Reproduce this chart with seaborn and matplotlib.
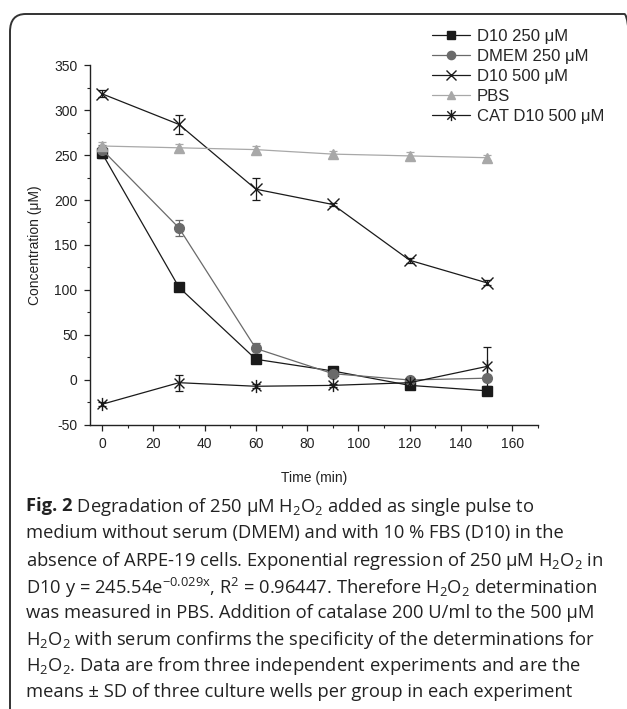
import matplotlib
matplotlib.use("Agg")
import matplotlib.pyplot as plt
import numpy as np
import pandas as pd
import seaborn as sns
from matplotlib.patches import FancyBboxPatch
from matplotlib.path import Path
from matplotlib.ticker import MultipleLocator

# ---- data ----
time = [0, 30, 60, 90, 120, 150]
d10_250 = [252, 103, 23, 10, -6, -12]
d10_250_sd = [5, 4, 3, 3, 2, 3]
dmem_250 = [256, 169, 35, 7, 0, 2]
dmem_250_sd = [5, 9, 6, 3, 2, 3]
d10_500 = [318, 284, 212, 195, 133, 108]
d10_500_sd = [4, 11, 12, 2, 3, 3]
pbs = [260, 258, 256, 251, 249, 247]
pbs_sd = [4, 4, 4, 4, 4, 3]
cat_d10_500 = [-27, -3, -7, -6, -3, 15]
cat_d10_500_sd = [2, 9, 2, 2, 2, 22]
series_names = ["D10 250 μM", "DMEM 250 μM", "D10 500 μM", "PBS", "CAT D10 500 μM"]
x_ticks = [0, 20, 40, 60, 80, 100, 120, 140, 160]
y_ticks = [-50, 0, 50, 100, 150, 200, 250, 300, 350]

sns.set_style("ticks")
plt.rcParams['font.family'] = ['Liberation Sans', 'DejaVu Sans']
plt.rcParams['axes.unicode_minus'] = False

fig = plt.figure(figsize=(6.27, 7.09), dpi=100)
ax = fig.add_axes([0.1435, 0.4006, 0.7145, 0.5077])

# asterisk marker: vertical bar plus an X
d = 0.75
asterisk = Path([(0, -1), (0, 1), (-d, -d), (d, d), (-d, d), (d, -d)],
                [Path.MOVETO, Path.LINETO, Path.MOVETO, Path.LINETO, Path.MOVETO, Path.LINETO])

values = [d10_250, dmem_250, d10_500, pbs, cat_d10_500]
sds = [d10_250_sd, dmem_250_sd, d10_500_sd, pbs_sd, cat_d10_500_sd]
styles = [
    dict(marker='s', color='#1a1a1a', mfc='#1a1a1a', ms=6.5, lc='#1a1a1a'),
    dict(marker='o', color='#6a6a6a', mfc='#6a6a6a', ms=7, lc='#6a6a6a'),
    dict(marker='x', color='#1a1a1a', mfc='none', ms=9, lc='#1a1a1a'),
    dict(marker='^', color='#a8a8a8', mfc='#a8a8a8', ms=7.5, lc='#a8a8a8'),
    dict(marker=asterisk, color='#1a1a1a', mfc='none', ms=9.5, lc='#1a1a1a'),
]

for name, v, sd, st in zip(series_names, values, sds, styles):
    df = pd.DataFrame({"time": time, "conc": v})
    ax.errorbar(time, v, yerr=sd, fmt='none', ecolor=st['lc'], elinewidth=0.9,
                capsize=3, capthick=0.9, zorder=2)
    sns.lineplot(data=df, x="time", y="conc", ax=ax, color=st['lc'], lw=0.9,
                 marker=st['marker'], markersize=st['ms'], markerfacecolor=st['mfc'],
                 markeredgecolor=st['color'], markeredgewidth=1.0, label=name, zorder=3)

ax.set_xlim(-4.7, 170)
ax.set_ylim(-50, 350)
ax.set_xticks(x_ticks)
ax.set_yticks(y_ticks)
ax.xaxis.set_minor_locator(MultipleLocator(10))
ax.yaxis.set_minor_locator(MultipleLocator(25))
ax.tick_params(which='major', direction='out', length=4, width=0.9, labelsize=10,
               colors='#222222', pad=5)
ax.tick_params(which='minor', direction='out', length=2.5, width=0.8, colors='#222222')
for s in ['top', 'right']:
    ax.spines[s].set_visible(False)
for s in ['left', 'bottom']:
    ax.spines[s].set_linewidth(1.0)
    ax.spines[s].set_color('#222222')
ax.set_xlabel("Time (min)", fontsize=10, labelpad=14, color='#222222')
ax.set_ylabel("Concentration (μM)", fontsize=10, labelpad=9, color='#222222')

leg = ax.legend(loc='upper left', bbox_to_anchor=(0.689, 0.959), bbox_transform=fig.transFigure,
                frameon=False, fontsize=12, handlelength=2.3, handletextpad=0.4,
                labelspacing=0.3, borderpad=0, borderaxespad=0)
for h in leg.legend_handles:
    h.set_markersize(h.get_markersize() * 0.85)

# rounded frame
frame = FancyBboxPatch((10 / 627, -0.05), 630 / 627, 1 - 14 / 709 + 0.05,
                       boxstyle="round,pad=0,rounding_size=0.025",
                       transform=fig.transFigure, fill=False, ec='#333333', lw=1.4,
                       clip_on=False)
fig.patches.append(frame)

# caption
plt.rcParams['mathtext.fontset'] = 'custom'
plt.rcParams['mathtext.rm'] = 'Open Sans'
plt.rcParams['mathtext.it'] = 'Open Sans:italic'
cap_font = dict(family='Open Sans', fontsize=13.2, color='#222222')
lines = [
    " Degradation of 250 μM H$_2$O$_2$ added as single pulse to",
    "medium without serum (DMEM) and with 10 % FBS (D10) in the",
    "absence of ARPE-19 cells. Exponential regression of 250 μM H$_2$O$_2$ in",
    "D10 y = 245.54e$^{-0.029\\mathrm{x}}$, R$^2$ = 0.96447. Therefore H$_2$O$_2$ determination",
    "was measured in PBS. Addition of catalase 200 U/ml to the 500 μM",
    "H$_2$O$_2$ with serum confirms the specificity of the determinations for",
    "H$_2$O$_2$. Data are from three independent experiments and are the",
    "means ± SD of three culture wells per group in each experiment",
]
y_centers = [504, 531, 558, 585, 611, 637, 663, 690]
x0 = 26 / 627
fig.canvas.draw()
r = fig.canvas.get_renderer()
t0 = fig.text(x0, 1 - y_centers[0] / 709, "Fig. 2", fontweight='bold', va='center_baseline', **cap_font)
bb = t0.get_window_extent(renderer=r)
fig.text(bb.x1 / fig.bbox.width, 1 - y_centers[0] / 709, lines[0], va='center_baseline', **cap_font)
for ln, yc in zip(lines[1:], y_centers[1:]):
    fig.text(x0, 1 - yc / 709, ln, va='center_baseline', **cap_font)

fig.savefig("out.png", dpi=100)
